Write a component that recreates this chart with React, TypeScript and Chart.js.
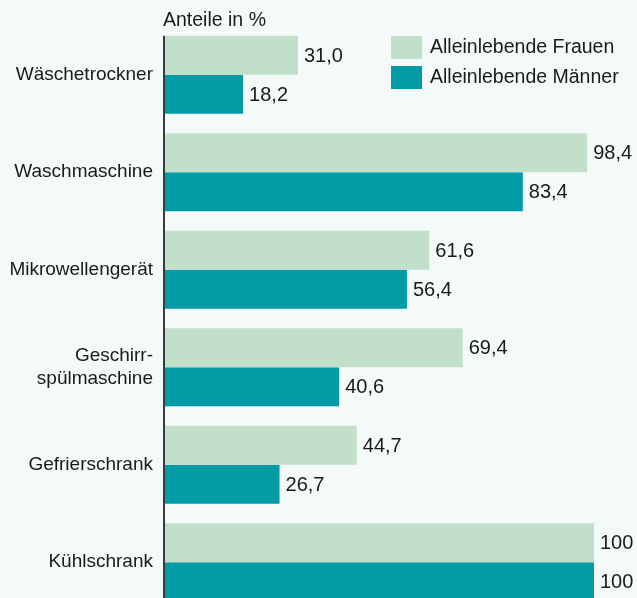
import React, { useEffect, useRef } from "react";
import { Chart, registerables } from "chart.js";

Chart.register(...registerables);

const categories: (string | string[])[] = [
  "Wäschetrockner",
  "Waschmaschine",
  "Mikrowellengerät",
  ["Geschirr-", "spülmaschine"],
  "Gefrierschrank",
  "Kühlschrank",
];
const frauen = [31.0, 98.4, 61.6, 69.4, 44.7, 100];
const maenner = [18.2, 83.4, 56.4, 40.6, 26.7, 100];
const seriesLabels = ["Alleinlebende Frauen", "Alleinlebende Männer"];
const axisTitle = "Anteile in %";

const FONT = "'Liberation Sans', Arial, sans-serif";
const BG = "#f4f9f9";
const LIGHT = "#c2dfca";
const TEAL = "#029ba6";
const TEXT = "#1a1a1a";

function fmt(v: number) {
  return v >= 100 ? String(v) : v.toFixed(1).replace(".", ",");
}

export default function App() {
  const ref = useRef<HTMLCanvasElement | null>(null);
  useEffect(() => {
    if (!ref.current) return;
    const plugin = {
      id: "custom",
      beforeDraw(chart: any) {
        const ctx = chart.ctx;
        ctx.save();
        ctx.fillStyle = BG;
        ctx.fillRect(0, 0, chart.width, chart.height);
        ctx.restore();
      },
      afterDatasetsDraw(chart: any) {
        const ctx = chart.ctx;
        const area = chart.chartArea;
        ctx.save();
        // value labels
        ctx.font = `20px ${FONT}`;
        ctx.fillStyle = TEXT;
        ctx.textBaseline = "middle";
        ctx.textAlign = "left";
        chart.data.datasets.forEach((ds: any, di: number) => {
          const meta = chart.getDatasetMeta(di);
          meta.data.forEach((bar: any, i: number) => {
            ctx.fillText(fmt(ds.data[i]), bar.x + 6, bar.y + 1);
          });
        });
        // axis line
        const firstBar = chart.getDatasetMeta(0).data[0];
        const top = firstBar.y - firstBar.height / 2;
        ctx.fillStyle = "#3a3a3a";
        ctx.fillRect(area.left - 2, top, 2, chart.height - top);
        // title
        ctx.font = `19.5px ${FONT}`;
        ctx.fillStyle = TEXT;
        ctx.textBaseline = "alphabetic";
        ctx.fillText(axisTitle, area.left - 2, 26);
        // legend
        const lx = 391;
        const items = [
          { y: 36, c: LIGHT, t: seriesLabels[0] },
          { y: 66, c: TEAL, t: seriesLabels[1] },
        ];
        items.forEach((it) => {
          ctx.fillStyle = it.c;
          ctx.fillRect(lx, it.y, 31, 23);
          ctx.fillStyle = TEXT;
          ctx.textBaseline = "middle";
          ctx.font = `19.5px ${FONT}`;
          ctx.fillText(it.t, lx + 39, it.y + 12);
        });
        ctx.restore();
      },
    };
    const chart = new Chart(ref.current, {
      type: "bar",
      data: {
        labels: categories,
        datasets: [
          { label: seriesLabels[0], data: frauen, backgroundColor: LIGHT, barPercentage: 1, categoryPercentage: 0.8 },
          { label: seriesLabels[1], data: maenner, backgroundColor: TEAL, barPercentage: 1, categoryPercentage: 0.8 },
        ],
      },
      options: {
        indexAxis: "y",
        animation: false,
        responsive: false,
        maintainAspectRatio: false,
        layout: { padding: { top: 26, right: 43, bottom: 0, left: 0 } },
        plugins: { legend: { display: false }, tooltip: { enabled: false } },
        scales: {
          x: { display: false, min: 0, max: 100 },
          y: {
            grid: { display: false, drawTicks: false },
            border: { display: false },
            ticks: {
              color: TEXT,
              padding: 12,
              font: { family: FONT, size: 19, lineHeight: 1.2 },
            },
            afterFit(scale: any) {
              scale.width = 165;
              scale.paddingTop = 0;
              scale.paddingBottom = 0;
            },
          },
        },
      },
      plugins: [plugin],
    } as any);
    return () => chart.destroy();
  }, []);
  return (
    <div style={{ position: "fixed", left: 0, top: 0, width: 637, height: 611 }}>
      <canvas ref={ref} width={637} height={611} style={{ display: "block" }} />
    </div>
  );
}
